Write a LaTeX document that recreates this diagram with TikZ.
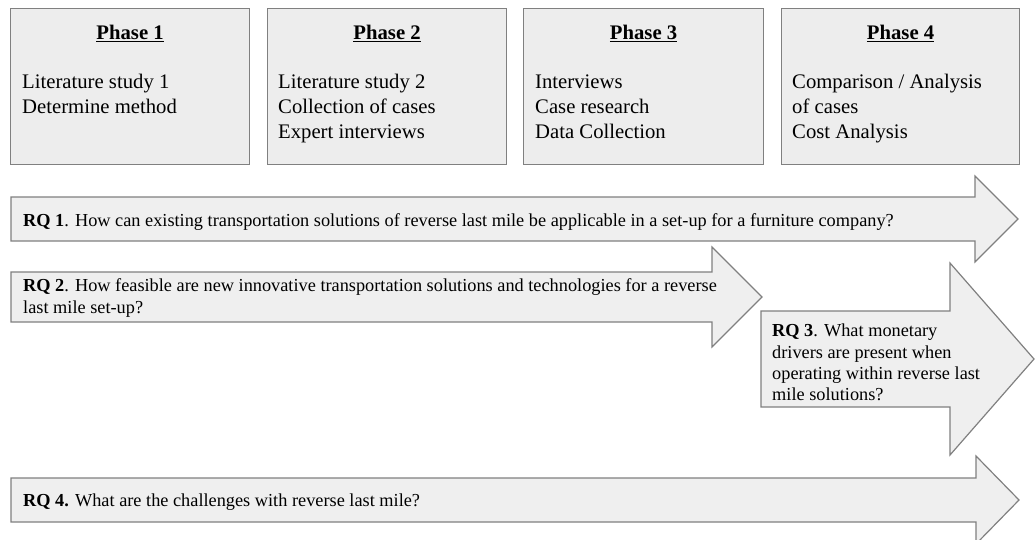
\documentclass[tikz,border=0pt]{standalone}
\usepackage{fontspec}
\setmainfont{Liberation Serif}
\definecolor{linegray}{HTML}{808080}
\definecolor{boxfill}{HTML}{EDEDED}
\definecolor{arrowfill}{HTML}{EFEFEF}
\begin{document}
\begin{tikzpicture}[x=1pt,y=-1pt,
  panel/.style={draw=linegray, fill=boxfill, line width=1.2pt, inner sep=0pt,
                minimum width=239pt, minimum height=156pt, anchor=north west},
  flow/.style={draw=linegray, fill=arrowfill, line width=1.2pt, line join=miter},
  phasehead/.style={anchor=base, inner sep=0pt, font=\fontsize{20.7}{25}\selectfont\bfseries},
  phasetxt/.style={anchor=base west, inner sep=0pt, font=\fontsize{20.7}{25}\selectfont},
  rqtxt/.style={anchor=base west, inner sep=0pt, font=\fontsize{18.3}{22}\selectfont}]
\useasboundingbox (0,0) rectangle (1035,540);

% phase panels
\node[panel] (p1) at (10,8) {};
\node[panel] (p2) at (267,8) {};
\node[panel, minimum width=240pt] (p3) at (523,8) {};
\node[panel, minimum width=238pt] (p4) at (781,8) {};

\node[phasehead] (p1h) at ([yshift=-32pt]p1.north) {\underline{Phase 1}};
\node[phasehead] (p2h) at ([yshift=-32pt]p2.north) {\underline{Phase 2}};
\node[phasehead] (p3h) at ([yshift=-32pt]p3.north) {\underline{Phase 3}};
\node[phasehead] (p4h) at ([yshift=-32pt]p4.north) {\underline{Phase 4}};

\node[phasetxt] (p1a) at (22,89) {Literature study 1};
\node[phasetxt] (p1b) at (22,114) {Determine method};

\node[phasetxt] (p2a) at (278,89) {Literature study 2};
\node[phasetxt] (p2b) at (278,114) {Collection of cases};
\node[phasetxt] (p2c) at (278,139) {Expert interviews};

\node[phasetxt] (p3a) at (535,89) {Interviews};
\node[phasetxt] (p3b) at (535,114) {Case research};
\node[phasetxt] (p3c) at (535,139) {Data Collection};

\node[phasetxt] (p4a) at (792,89) {Comparison / Analysis};
\node[phasetxt] (p4b) at (792,114) {of cases};
\node[phasetxt] (p4c) at (792,139) {Cost Analysis};

% research question arrows
\draw[flow] (11,197) -- (975,197) -- (975,176) -- (1018,219) -- (975,262)
  -- (975,241) -- (11,241) -- cycle;
\draw[flow] (11,272) -- (712,272) -- (712,247) -- (762,297) -- (712,347)
  -- (712,322) -- (11,322) -- cycle;
\draw[flow] (761,311) -- (950,311) -- (950,263) -- (1034,359) -- (950,455)
  -- (950,407) -- (761,407) -- cycle;
\draw[flow] (11,478) -- (976,478) -- (976,456) -- (1019,500) -- (976,544)
  -- (976,522) -- (11,522) -- cycle;

\node[rqtxt] (rq1) at (23,226) {\textbf{RQ 1}. How can existing transportation solutions of reverse last mile be applicable in a set-up for a furniture company?};

\node[rqtxt] (rq2a) at (23,291) {\textbf{RQ 2}. How feasible are new innovative transportation solutions and technologies for a reverse};
\node[rqtxt] (rq2b) at (23,313) {last mile set-up?};

\node[rqtxt] (rq3a) at (772,336) {\textbf{RQ 3}. What monetary};
\node[rqtxt] (rq3b) at (772,358) {drivers are present when};
\node[rqtxt] (rq3c) at (772,379) {operating within reverse last};
\node[rqtxt] (rq3d) at (772,400) {mile solutions?};

\node[rqtxt] (rq4) at (23,506) {\textbf{RQ 4.} What are the challenges with reverse last mile?};
\end{tikzpicture}
\end{document}
